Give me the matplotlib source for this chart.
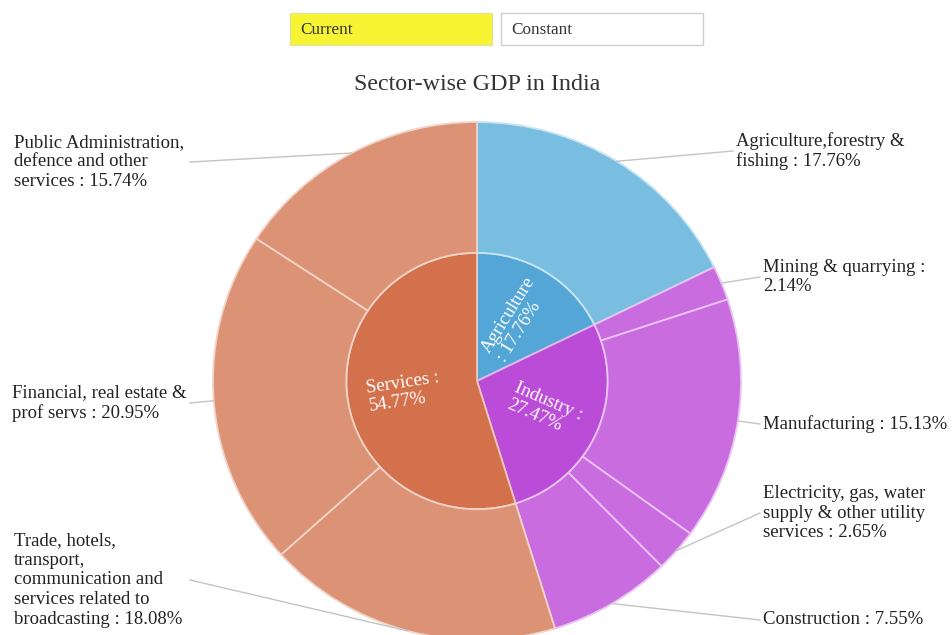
import numpy as np
import matplotlib
matplotlib.use("Agg")
import matplotlib.pyplot as plt
from matplotlib.patches import Rectangle
from matplotlib.colors import to_rgb

# --- dati ---
sectors = ["Agriculture", "Industry", "Services"]
sector_share = [17.76, 27.47, 54.77]
sector_fmt = ["Agriculture\n: {:.2f}%", "Industry :\n{:.2f}%", "Services :\n{:.2f}%"]
sector_colors = ["#53a6d6", "#bb4cd8", "#d3714d"]

subsectors = ["Agriculture,forestry & fishing", "Mining & quarrying", "Manufacturing",
              "Electricity, gas, water supply & other utility services", "Construction",
              "Trade, hotels, transport, communication and services related to broadcasting",
              "Financial, real estate & prof servs", "Public Administration, defence and other services"]
sub_share = [17.76, 2.14, 15.13, 2.65, 7.55, 18.08, 20.95, 15.74]
sub_parent = [0, 1, 1, 1, 1, 2, 2, 2]
sub_fmt = ["Agriculture,forestry &\nfishing : {:.2f}%",
           "Mining & quarrying :\n{:.2f}%",
           "Manufacturing : {:.2f}%",
           "Electricity, gas, water\nsupply & other utility\nservices : {:.2f}%",
           "Construction : {:.2f}%",
           "Trade, hotels,\ntransport,\ncommunication and\nservices related to\nbroadcasting : {:.2f}%",
           "Financial, real estate &\nprof servs : {:.2f}%",
           "Public Administration,\ndefence and other\nservices : {:.2f}%"]
sub_colors = ["#79bde0", "#c96ce0", "#c96ce0", "#c96ce0", "#c96ce0", "#dc9275", "#dc9275", "#dc9275"]

# posizione delle etichette esterne (pixel, origine in alto a sinistra)
label_x = [736, 763, 763, 763, 763, 14, 12, 14]
label_y = [151, 277, 424, 513, 620, 580, 403, 162]

W, H = 953, 635
FONT = "Liberation Serif"


def lighten(c, f):
    r, g, b = to_rgb(c)
    return (r + (1 - r) * f, g + (1 - g) * f, b + (1 - b) * f)


fig = plt.figure(figsize=(W / 100, H / 100), dpi=100)
fig.patch.set_facecolor("white")

# asse della torta: centro (477, 381), raggio 264 x 259 px
cx, cy, rx, ry = 477, 381, 264, 259
pie_ax = fig.add_axes([(cx - rx) / W, (H - cy - ry) / H, 2 * rx / W, 2 * ry / H])
R_IN = 0.495

inner, _ = pie_ax.pie(sector_share, radius=R_IN, colors=sector_colors, startangle=90,
                      counterclock=False, wedgeprops=dict(linewidth=1.3))
outer, _ = pie_ax.pie(sub_share, radius=1.0, colors=sub_colors, startangle=90,
                      counterclock=False, wedgeprops=dict(width=1.0 - R_IN, linewidth=1.3))
for w, c in zip(inner, sector_colors):
    w.set_edgecolor(lighten(c, 0.6))
for w, c in zip(outer, sub_colors):
    w.set_edgecolor(lighten(c, 0.6))
pie_ax.set_xlim(-1, 1)
pie_ax.set_ylim(-1, 1)
pie_ax.set_aspect("auto")
pie_ax.axis("off")

# asse sovrapposto in pixel
ov = fig.add_axes([0, 0, 1, 1], zorder=5)
ov.set_xlim(0, W)
ov.set_ylim(H, 0)
ov.axis("off")
ov.patch.set_visible(False)


def to_ov(x, y):
    d = pie_ax.transData.transform((x, y))
    return ov.transData.inverted().transform(d)


# etichette interne (ruotate lungo il raggio)
for w, fmt, v in zip(inner, sector_fmt, sector_share):
    mid_deg = (w.theta1 + w.theta2) / 2
    mid = np.deg2rad(mid_deg)
    rot = (mid_deg + 180) % 360 - 180
    if rot > 90:
        rot -= 180
    if rot < -90:
        rot += 180
    pie_ax.text(0.28 * np.cos(mid), 0.28 * np.sin(mid), fmt.format(v), rotation=rot,
                rotation_mode="anchor", ha="center", va="center", multialignment="left",
                color="white", fontsize=13.5, family=FONT, linespacing=1.07)

# etichette esterne con linee guida
for w, fmt, v, lx, ly in zip(outer, sub_fmt, sub_share, label_x, label_y):
    mid = np.deg2rad((w.theta1 + w.theta2) / 2)
    px, py = to_ov(np.cos(mid), np.sin(mid))
    right = lx > cx
    ex = lx - 3 if right else 190
    ov.plot([px, ex], [py, ly], color="#c4c4c4", lw=1.0)
    ov.text(lx, ly, fmt.format(v), ha="left", va="center", fontsize=13.5, family=FONT,
            color="#222222", linespacing=1.2)

# titolo
ov.text(477, 85, "Sector-wise GDP in India", ha="center", va="center", fontsize=17.3,
        family=FONT, color="#333333")

# pulsanti
ov.add_patch(Rectangle((290, 13), 202, 32, facecolor="#f7f533", edgecolor="#e2e2a0", lw=1))
ov.add_patch(Rectangle((501, 13), 202, 32, facecolor="white", edgecolor="#cfcfcf", lw=1))
ov.text(300, 30, "Current", ha="left", va="center", fontsize=12.3, family=FONT, color="#333333")
ov.text(511, 30, "Constant", ha="left", va="center", fontsize=12.3, family=FONT, color="#333333")

fig.savefig("out.png", dpi=100)
plt.close(fig)
